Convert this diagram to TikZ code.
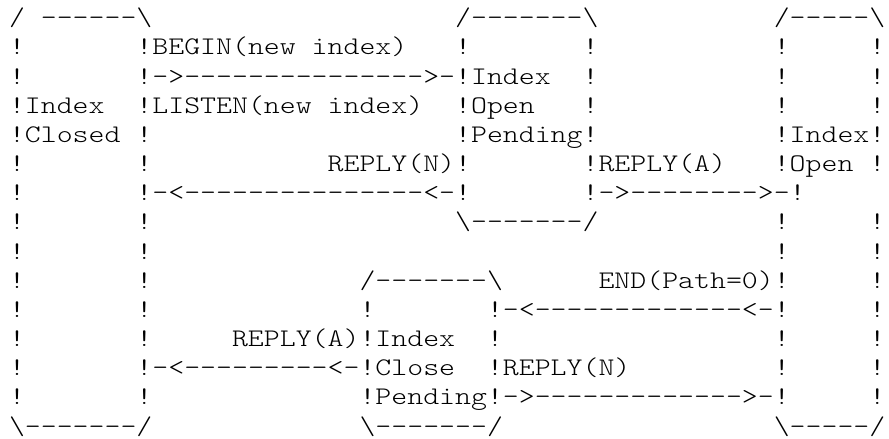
\documentclass[tikz,border=0pt]{standalone}
\usepackage{graphicx}
\usepackage{fontspec}
\usepackage{tikz}
\usetikzlibrary{positioning}

\newfontfamily\asciifont{lmmonolt10-regular.otf}
\newcommand{\bsl}{\textbackslash}
\newcommand{\blanks}[1]{\hspace*{#1\fontdimen2\font}}
\newcommand{\widerow}[1]{\scalebox{1.198}[1]{#1}}

\tikzset{asciirow/.style={anchor=base west,inner sep=0pt,outer sep=0pt,
    font=\asciifont\fontsize{19pt}{21.875pt}\selectfont}}

\begin{document}
\begin{tikzpicture}[x=1pt,y=1pt]
\useasboundingbox (0,0) rectangle (666.75,-329.25);
%%
\node (row_0) at (6.75,-19.35) [asciirow] {\widerow{/~-----{}-\bsl\blanks{19}/-----{}--\bsl\blanks{11}/-----\bsl}};
  \node (row_1) at (6.75,-41.225) [asciirow] {\widerow{!\blanks{7}!BEGIN(new~index)\blanks{3}!\blanks{7}!\blanks{11}!\blanks{5}!}};
  \node (row_2) at (6.75,-63.1) [asciirow] {\widerow{!\blanks{7}!->-----{}-----{}----->-!Index~~!\blanks{11}!\blanks{5}!}};
  \node (row_3) at (6.75,-84.975) [asciirow] {\widerow{!Index~~!LISTEN(new~index)~~!Open~~~!\blanks{11}!\blanks{5}!}};
  \node (row_4) at (6.75,-106.85) [asciirow] {\widerow{!Closed~!\blanks{19}!Pending!\blanks{11}!Index!}};
  \node (row_5) at (6.75,-128.725) [asciirow] {\widerow{!\blanks{7}!\blanks{11}REPLY(N)!\blanks{7}!REPLY(A)~~~!Open~!}};
  \node (row_6) at (6.75,-150.6) [asciirow] {\widerow{!\blanks{7}!-<-----{}-----{}-----<-!\blanks{7}!->-----{}--->-!\blanks{5}!}};
  \node (row_7) at (6.75,-172.475) [asciirow] {\widerow{!\blanks{7}!\blanks{19}\bsl-----{}--/\blanks{11}!\blanks{5}!}};
  \node (row_8) at (6.75,-194.35) [asciirow] {\widerow{!\blanks{7}!\blanks{39}!\blanks{5}!}};
  \node (row_9) at (6.75,-216.225) [asciirow] {\widerow{!\blanks{7}!\blanks{13}/-----{}--\bsl\blanks{6}END(Path=0)!\blanks{5}!}};
  \node (row_10) at (6.75,-238.1) [asciirow] {\widerow{!\blanks{7}!\blanks{13}!\blanks{7}!-<-----{}-----{}---<-!\blanks{5}!}};
  \node (row_11) at (6.75,-259.975) [asciirow] {\widerow{!\blanks{7}!\blanks{5}REPLY(A)!Index~~!\blanks{17}!\blanks{5}!}};
  \node (row_12) at (6.75,-281.85) [asciirow] {\widerow{!\blanks{7}!-<-----{}----<-!Close~~!REPLY(N)\blanks{9}!\blanks{5}!}};
  \node (row_13) at (6.75,-303.725) [asciirow] {\widerow{!\blanks{7}!\blanks{13}!Pending!->-----{}-----{}--->-!\blanks{5}!}};
  \node (row_14) at (6.75,-325.6) [asciirow] {\widerow{\bsl-----{}--/\blanks{13}\bsl-----{}--/\blanks{17}\bsl-----/}};
%
\end{tikzpicture}
\end{document}
